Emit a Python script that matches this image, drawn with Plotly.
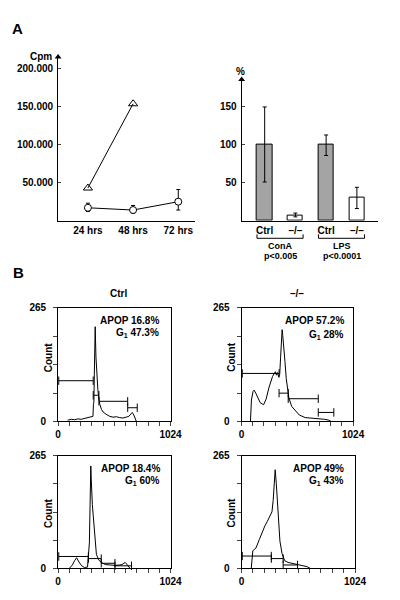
import plotly.graph_objects as go

# page body has an 8px margin on every side; size the figure so the page is exactly 400x600
OFF = 8
W, H = 400 - 2 * OFF, 600 - 2 * OFF
FONT = "Liberation Sans, Arial, sans-serif"


def px(x):
    return (x - OFF) / W


def py(y):
    return 1 - (y - OFF) / H


# ---------------- Panel A left: proliferation (Cpm) ----------------
time_labels = ["24 hrs", "48 hrs", "72 hrs"]
cpm_ctrl = [43000, 154000]            # open triangles
cpm_ko = [17000, 14000, 25000]        # open circles
cpm_ko_err_plus = [6000, 6000, 16000]
cpm_ko_err_minus = [5000, 4000, 11000]
cpm_ticks = [50000, 100000, 150000, 200000]
cpm_ticktext = ["50.000", "100.000", "150.000", "200.000"]

# ---------------- Panel A right: % bars ----------------
bar_labels = ["Ctrl", "–/–", "Ctrl", "–/–"]
bar_values = [100, 7, 100, 31]
bar_err_plus = [50, 3, 13, 13]
bar_err_minus = [49, 2, 14, 15]
bar_groups = ["ConA", "LPS"]
bar_pvalues = ["p<0.005", "p<0.0001"]
pct_ticks = [50, 100, 150]

# ---------------- Panel B: DNA histograms ----------------
ctrl1_ch = [87, 120, 150, 180, 210, 240, 270, 291, 305, 318, 322, 326, 330, 334, 338, 341, 345, 350, 356, 362, 370, 380, 395, 410, 436, 470, 500, 530, 560, 590, 620, 645, 665, 675, 690, 705, 713]
ctrl1_ct = [3, 5, 4, 6, 5, 7, 8, 9, 10, 12, 40, 45, 110, 170, 221, 190, 150, 120, 95, 75, 55, 40, 28, 22, 17, 12, 10, 11, 9, 8, 10, 12, 18, 21, 15, 5, 0]
ctrl1_gates = [(6, 320, 95), (320, 372, 61), (372, 634, 47), (634, 721, 32)]

ko1_ch = [81, 90, 105, 114, 130, 150, 170, 202, 225, 250, 270, 284, 300, 310, 320, 330, 340, 350, 358, 366, 372, 378, 384, 390, 398, 410, 434, 460, 494, 530, 584, 640, 700, 763, 800, 823]
ko1_ct = [0, 50, 70, 73, 66, 55, 44, 39, 52, 78, 95, 105, 112, 116, 108, 114, 104, 110, 150, 195, 214, 200, 175, 160, 140, 100, 55, 35, 24, 15, 9, 8, 6, 5, 3, 0]
ko1_gates = [(6, 344, 112), (344, 428, 66), (428, 704, 53), (704, 847, 21)]

ctrl2_ch = [102, 130, 150, 169, 190, 215, 240, 268, 285, 292, 298, 302, 306, 312, 320, 335, 349, 370, 393, 430, 470, 520, 560, 582, 600, 611, 625, 640, 655]
ctrl2_ct = [0, 8, 18, 25, 15, 6, 2, 3, 60, 180, 241, 210, 175, 150, 125, 70, 33, 20, 14, 9, 8, 7, 8, 9, 12, 14, 10, 4, 0]
ctrl2_gates = [(6, 276, 28), (276, 393, 23), (393, 518, 12), (518, 669, 6)]

ko2_ch = [87, 92, 101, 115, 130, 160, 188, 210, 231, 250, 274, 285, 295, 303, 313, 323, 335, 346, 365, 389, 420, 460, 505, 550, 591, 620]
ko2_ct = [0, 25, 41, 45, 48, 68, 87, 100, 110, 120, 133, 160, 200, 232, 200, 155, 100, 64, 35, 18, 14, 12, 10, 7, 4, 0]
ko2_gates = [(6, 268, 29), (268, 375, 23), (375, 505, 8)]

hist_titles = ["Ctrl", "–/–"]
apop_texts = ["APOP 16.8%", "APOP 57.2%", "APOP 18.4%", "APOP 49%"]
g1_texts = ["47.3%", "28%", "60%", "43%"]

fig = go.Figure()

tickfont = dict(family=FONT, size=10, color="black", weight="bold")

# ---- Panel A left traces
fig.add_trace(go.Scatter(
    x=[0, 1], y=cpm_ctrl, mode="lines+markers", xaxis="x", yaxis="y",
    line=dict(color="black", width=1),
    marker=dict(symbol="triangle-up-open", size=8, color="black", line=dict(width=1)),
    showlegend=False, cliponaxis=False))
fig.add_trace(go.Scatter(
    x=[0, 1, 2], y=cpm_ko, mode="lines+markers", xaxis="x", yaxis="y",
    line=dict(color="black", width=1),
    marker=dict(symbol="circle", size=7, color="white", line=dict(width=1, color="black")),
    error_y=dict(type="data", array=cpm_ko_err_plus, arrayminus=cpm_ko_err_minus,
                 color="black", thickness=1, width=2),
    showlegend=False, cliponaxis=False))
ytop_left = 215500
fig.add_trace(go.Scatter(
    x=[-0.66], y=[ytop_left], mode="markers", xaxis="x", yaxis="y",
    marker=dict(symbol="triangle-up", size=6, color="black"),
    showlegend=False, cliponaxis=False, hoverinfo="skip"))

# ---- Panel A right traces
bar_x = list(range(len(bar_values)))
fig.add_trace(go.Bar(
    x=bar_x, y=bar_values, width=0.5, xaxis="x2", yaxis="y2",
    marker=dict(color=["#a4a4a4", "white", "#a4a4a4", "white"],
                line=dict(color="black", width=1)),
    error_y=dict(type="data", array=bar_err_plus, arrayminus=bar_err_minus,
                 color="black", thickness=1, width=2),
    showlegend=False))
ytop_right = 186
fig.add_trace(go.Scatter(
    x=[-0.75], y=[ytop_right], mode="markers", xaxis="x2", yaxis="y2",
    marker=dict(symbol="triangle-up", size=6, color="black"),
    showlegend=False, cliponaxis=False, hoverinfo="skip"))

# ---- Panel B traces
hists = [(ctrl1_ch, ctrl1_ct, ctrl1_gates), (ko1_ch, ko1_ct, ko1_gates),
         (ctrl2_ch, ctrl2_ct, ctrl2_gates), (ko2_ch, ko2_ct, ko2_gates)]
for i, (ch, ct, gates) in enumerate(hists):
    xa, ya = f"x{i+3}", f"y{i+3}"
    fig.add_trace(go.Scatter(x=ch, y=ct, mode="lines", xaxis=xa, yaxis=ya,
                             line=dict(color="black", width=1), showlegend=False))
    for (g0, g1, lv) in gates:
        fig.add_trace(go.Scatter(
            x=[g0, g1], y=[lv, lv], mode="lines+markers", xaxis=xa, yaxis=ya,
            line=dict(color="black", width=1),
            marker=dict(symbol="line-ns-open", size=6, color="black", line=dict(width=1)),
            showlegend=False, cliponaxis=False))

common_line = dict(showline=True, linecolor="black", linewidth=1, showgrid=False,
                   zeroline=False, tickfont=tickfont, fixedrange=True)

layout = dict(
    width=W, height=H, margin=dict(l=0, r=0, t=0, b=0),
    paper_bgcolor="white", plot_bgcolor="white",
    font=dict(family=FONT, size=10, color="black"),
    showlegend=False,
    xaxis=dict(domain=[px(57), px(199)], range=[-0.66, 2.36], tickvals=[0, 1, 2],
               ticktext=time_labels, ticks="", anchor="y", **common_line),
    yaxis=dict(domain=[py(219), py(52)], range=[0, ytop_left], tickvals=cpm_ticks,
               ticktext=cpm_ticktext, ticks="inside", ticklen=3, anchor="x",
               ticklabelstandoff=2, **common_line),
    xaxis2=dict(domain=[px(248), px(390)], range=[-0.75, 3.69], tickvals=bar_x,
                ticktext=bar_labels, ticks="", anchor="y2", **common_line),
    yaxis2=dict(domain=[py(219), py(75)], range=[0, ytop_right], tickvals=pct_ticks,
                ticks="inside", ticklen=3, anchor="x2", ticklabelstandoff=2, **common_line),
    bargap=0,
)

boxes = [(57, 174, 308, 424), (248, 364, 308, 424), (57, 174, 459, 574), (248, 366, 459, 574)]
xt = [i * 102.4 for i in range(11)]
xtt = ["0"] + [""] * 9 + ["1024"]
yt = [i * 66.25 for i in range(5)]
ytt = ["0", "", "", "", "265"]
for i, (x0, x1, y0, y1) in enumerate(boxes):
    n = i + 3
    layout[f"xaxis{n}"] = dict(domain=[px(x0), px(x1)], range=[0, 1024], tickvals=xt, ticktext=xtt,
                               ticks="outside", ticklen=4, mirror=True, anchor=f"y{n}", **common_line)
    layout[f"yaxis{n}"] = dict(domain=[py(y1), py(y0)], range=[0, 265], tickvals=yt, ticktext=ytt,
                               ticks="outside", ticklen=4, mirror=True, anchor=f"x{n}",
                               ticklabelstandoff=5, **common_line)

ann = []
bold = dict(family=FONT, size=10, color="black", weight="bold")
small_bold = dict(family=FONT, size=9, color="black", weight="bold")


def note(text, x, y, font=bold, xanchor="center", xref="paper", **kw):
    ann.append(dict(text=text, x=px(x) if xref == "paper" else x, y=py(y), xref=xref, yref="paper",
                    xanchor=xanchor, yanchor="middle", showarrow=False, font=font, **kw))


note("A", 15, 23, font=dict(family=FONT, size=15, color="black", weight="bold"))
note("B", 16, 272, font=dict(family=FONT, size=15, color="black", weight="bold"))
note("Cpm", 53, 51, xanchor="right")
note("%", 247, 67)

shapes = []
for gi, (gname, pv) in enumerate(zip(bar_groups, bar_pvalues)):
    a = 2 * gi - 0.25
    b = 2 * gi + 1.25
    shapes.append(dict(type="path", xref="x2", yref="paper",
                       path=f"M {a},{py(233)} L {a},{py(237)} L {b},{py(237)} L {b},{py(233)}",
                       line=dict(color="black", width=1)))
    note(gname, 2 * gi + 0.5, 245, font=small_bold, xref="x2")
    note(pv, 2 * gi + 0.5, 255, font=small_bold, xref="x2")

note(hist_titles[0], 120, 293)
note(hist_titles[1], 306, 293)

count_pos = [(47, 358), (238, 358), (47, 517), (238, 517)]
apop_pos = [(164, 321, 334), (357, 321, 336), (165, 472, 485), (357, 472, 485)]
for i in range(4):
    cx, cy = count_pos[i]
    note("Count", cx, cy, textangle=-90)
    ax_, ay1, ay2 = apop_pos[i]
    note(apop_texts[i], ax_, ay1, xanchor="right")
    note("G<sub>1</sub> " + g1_texts[i], ax_, ay2, xanchor="right")

layout["annotations"] = ann
layout["shapes"] = shapes
fig.update_layout(**layout)
fig.write_html("out.html")
